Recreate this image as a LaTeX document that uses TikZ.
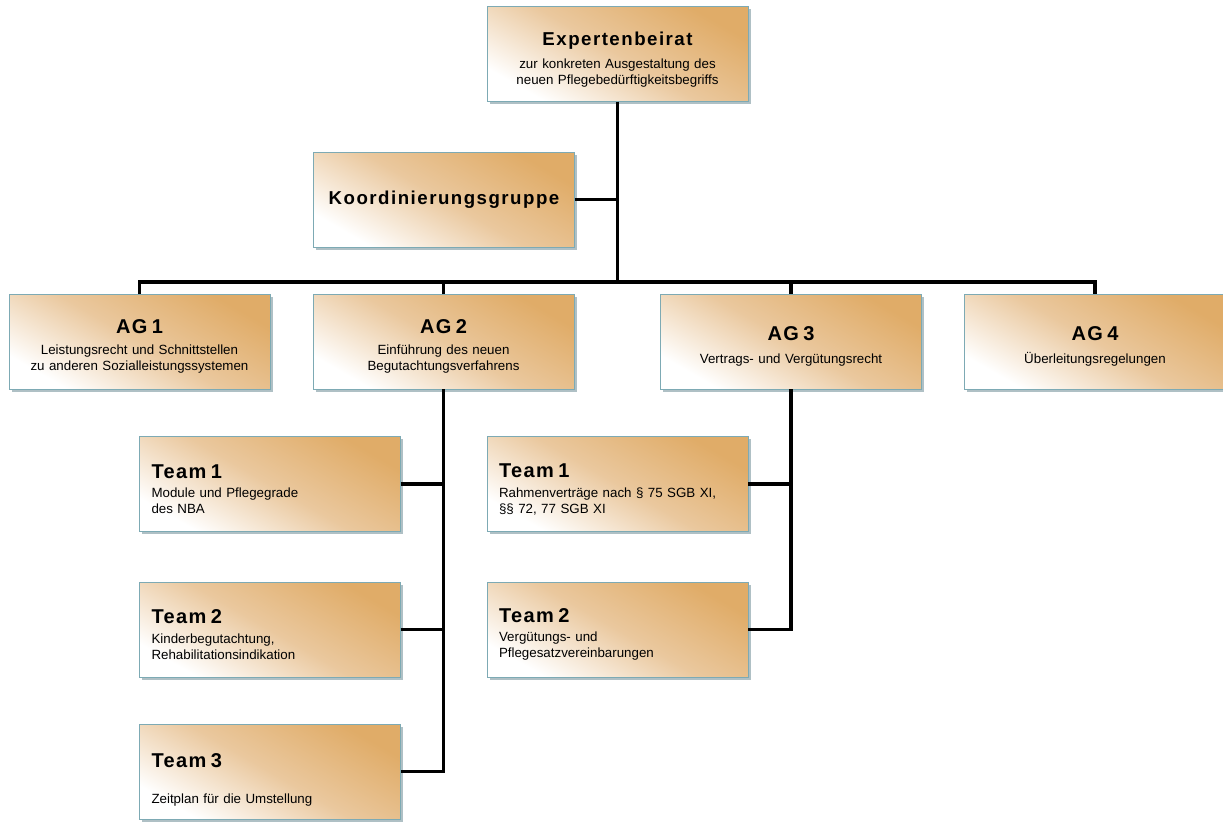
\documentclass[tikz,border=0pt]{standalone}
\usepackage{fontspec}
\setmainfont{Liberation Sans}
\usetikzlibrary{shadows}
\definecolor{boxorange}{RGB}{224,172,104}
\definecolor{boxmid}{RGB}{234,200,158}
\definecolor{boxedge}{RGB}{125,170,180}
\definecolor{shadowcol}{RGB}{110,140,150}
\newcommand{\ttl}[1]{{\fontsize{14}{16}\selectfont\bfseries\addfontfeatures{LetterSpace=8}#1}}
\newcommand{\ttb}[1]{{\fontsize{15}{17}\selectfont\bfseries\addfontfeatures{LetterSpace=7}#1}}
\newcommand{\tst}{\rule{0pt}{18pt}}
\newcommand{\sml}{\fontsize{10}{11.3}\selectfont}
\tikzset{
  orgbox/.style={draw=boxedge, line width=0.6pt,
    top color=boxorange, bottom color=white, middle color=boxmid, shading angle=-30,
    minimum width=195.75pt, minimum height=71.25pt, inner ysep=0pt, outer sep=0pt,
    drop shadow={shadow xshift=2pt, shadow yshift=-2pt, fill=shadowcol, opacity=0.55}},
  cbox/.style={orgbox, align=center, text width=190pt, inner xsep=2.875pt},
  lbox/.style={orgbox, align=left, text width=177.75pt, inner xsep=9pt},
  conn/.style={line width=2.8pt, black},
}
\begin{document}
\begin{tikzpicture}[x=0.75pt,y=-0.75pt]
\useasboundingbox (0,0) rectangle (1223,821);
% boxes
\node[cbox] (E) at (617.5,54) {\tst\ttl{Expertenbeirat}\\[6pt]\sml zur konkreten Ausgestaltung des\\neuen Pflegebedürftigkeitsbegriffs};
\node[cbox] (K) at (444,199.5) {\ttl{Koordinierungsgruppe}};
\node[cbox] (AG1) at (139.5,341.5) {\tst\ttb{AG 1}\\[5pt]\sml Leistungsrecht und Schnittstellen\\zu anderen Sozialleistungssystemen};
\node[cbox] (AG2) at (443.5,341.5) {\tst\ttb{AG 2}\\[5pt]\sml Einführung des neuen\\Begutachtungsverfahrens};
\node[cbox] (AG3) at (791,341.5) {\tst\ttb{AG 3}\\[5pt]\sml Vertrags- und Vergütungsrecht};
\node[cbox] (AG4) at (1095,341.5) {\tst\ttb{AG 4}\\[5pt]\sml Überleitungsregelungen};
\node[lbox] (T1) at (270,484) {\tst\ttb{Team 1}\\[3.5pt]\sml Module und Pflegegrade\\des NBA};
\node[lbox] (T2) at (270,629.5) {\tst\ttb{Team 2}\\[3.5pt]\sml Kinderbegutachtung,\\Rehabilitationsindikation};
\node[lbox] (T3) at (270,771.5) {\rule{0pt}{23pt}\ttb{Team 3}\\[15pt]\sml Zeitplan für die Umstellung};
\node[lbox] (U1) at (617.5,484) {\tst\ttb{Team 1}\\[3.5pt]\sml Rahmenverträge nach § 75 SGB XI,\\§§ 72, 77 SGB XI};
\node[lbox] (U2) at (617.5,629.5) {\tst\ttb{Team 2}\\[3.5pt]\sml Vergütungs- und\\Pflegesatzvereinbarungen};
% connectors
\coordinate (bus) at (617.5,282);
\draw[conn] (E.south) -- (bus);
\draw[conn] (K.east) -- (K.east -| bus);
\draw[conn] (AG1.north) |- (bus) -| (AG4.north);
\draw[conn] (AG2.north) -- (AG2.north |- bus);
\draw[conn] (AG3.north) -- (AG3.north |- bus);
\draw[conn] (AG2.south) |- (T3.east);
\draw[conn] (T1.east) -- (T1.east -| AG2.south);
\draw[conn] (T2.east) -- (T2.east -| AG2.south);
\draw[conn] (AG3.south) |- (U2.east);
\draw[conn] (U1.east) -- (U1.east -| AG3.south);
\end{tikzpicture}
\end{document}
